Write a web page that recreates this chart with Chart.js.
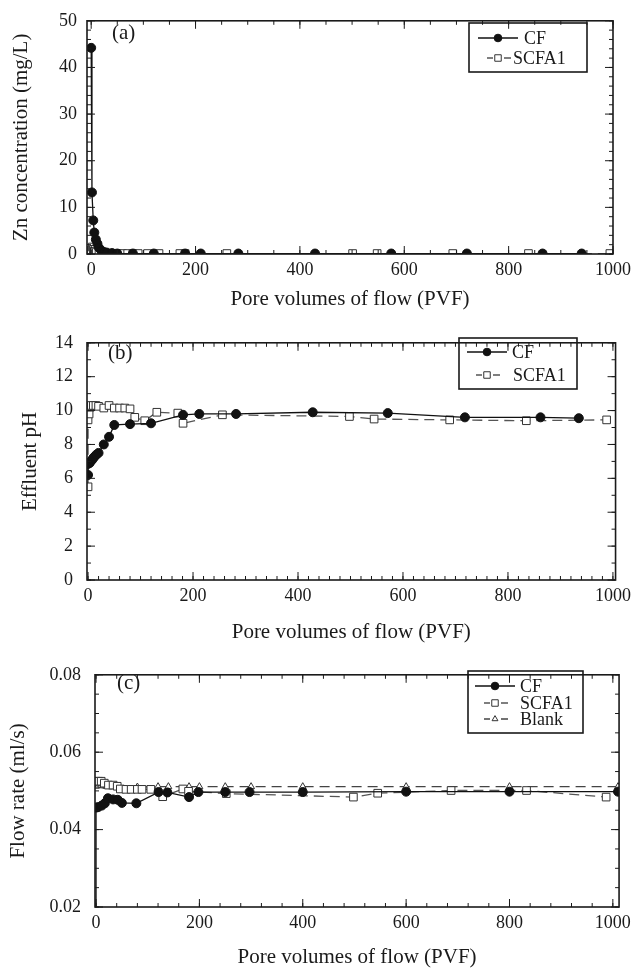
<!DOCTYPE html>
<html>
<head>
<meta charset="utf-8">
<script src="https://cdn.jsdelivr.net/npm/chart.js@4.4.0/dist/chart.umd.min.js"></script>
<style>
  html, body { margin: 0; padding: 0; background: #fff; }
  canvas { position: absolute; left: 0; }
</style>
</head>
<body>
<canvas id="chartA" width="636" height="318" style="top:0px"></canvas>
<canvas id="chartB" width="636" height="332" style="top:318px"></canvas>
<canvas id="chartC" width="636" height="323" style="top:650px"></canvas>
<script>
// ---- data ----
// (a) Zn concentration (mg/L)
const znCfPvf = [0, 1.5, 4, 6, 9, 12, 15, 20, 25, 30, 40, 50, 80, 120, 180, 210, 282, 429, 575, 720, 865, 940];
const znCf = [44.2, 13.2, 7.2, 4.6, 3.1, 2.2, 1.3, 0.7, 0.4, 0.3, 0.2, 0.1, 0.1, 0.1, 0.1, 0.1, 0.1, 0.1, 0.1, 0.1, 0.1, 0.1];
const znScfaPvf = [0, 2, 4, 6, 10, 15, 20, 30, 40, 50, 60, 70, 80, 90, 108, 130, 170, 180, 260, 501, 548, 693, 838, 994];
const znScfa = [0.8, 1.5, 1.0, 0.6, 0.4, 0.3, 0.2, 0.1, 0.1, 0.1, 0.1, 0.1, 0.1, 0.1, 0.1, 0.1, 0.1, 0.1, 0.1, 0.1, 0.1, 0.1, 0.1, 0.1];

// (b) Effluent pH
const phCfPvf = [0, 0, 3, 5, 8, 10, 13, 16, 20, 30, 40, 50, 80, 120, 181, 212, 282, 428, 571, 718, 862, 935];
const phCf = [6.2, 6.85, 6.9, 7.0, 7.1, 7.2, 7.3, 7.4, 7.5, 8.0, 8.45, 9.15, 9.2, 9.25, 9.75, 9.8, 9.8, 9.9, 9.85, 9.6, 9.6, 9.55];
const phScfaPvf = [0, 0, 2, 4, 6, 10, 15, 20, 30, 40, 50, 60, 70, 80, 89, 108, 131, 171, 181, 256, 498, 545, 689, 835, 988];
const phScfa = [5.5, 9.45, 9.8, 10.2, 10.3, 10.3, 10.3, 10.25, 10.15, 10.3, 10.15, 10.15, 10.15, 10.1, 9.6, 9.4, 9.9, 9.85, 9.25, 9.75, 9.65, 9.5, 9.45, 9.4, 9.45];

// (c) Flow rate (ml/s)
const flowCfPvf = [0, 0, 4, 11, 17, 23, 33, 42, 50, 78, 121, 138, 180, 198, 250, 297, 400, 600, 800, 1010];
const flowCf = [0.0, 0.0457, 0.0458, 0.0462, 0.0468, 0.0481, 0.0478, 0.0477, 0.0469, 0.0468, 0.0497, 0.0496, 0.0484, 0.0497, 0.0497, 0.0497, 0.0497, 0.0498, 0.0498, 0.0498];
const flowScfaPvf = [0, 5, 10, 16, 24, 33, 41, 47, 58, 68, 80, 89, 106, 129, 168, 179, 252, 498, 545, 687, 833, 987];
const flowScfa = [0.0525, 0.0525, 0.0525, 0.052, 0.0515, 0.0515, 0.0512, 0.0505, 0.0504, 0.0504, 0.0504, 0.0504, 0.0504, 0.0485, 0.0505, 0.0499, 0.0493, 0.0484, 0.0494, 0.0501, 0.0501, 0.0484];
const flowBlankPvf = [0, 5, 10, 15, 20, 30, 40, 80, 120, 140, 180, 200, 250, 300, 400, 600, 800, 1010];
const flowBlank = [0.0512, 0.0515, 0.0515, 0.0513, 0.0512, 0.0511, 0.051, 0.051, 0.0511, 0.0511, 0.0511, 0.0511, 0.0511, 0.0511, 0.0511, 0.0511, 0.0511, 0.0511];

// tick labels
const pvfTicks = [0, 200, 400, 600, 800, 1000];
const znTicks = [0, 10, 20, 30, 40, 50];
const phTicks = [0, 2, 4, 6, 8, 10, 12, 14];
const flowTicks = [0.02, 0.04, 0.06, 0.08];

const serif = "'Liberation Serif', 'DejaVu Serif', serif";
const ink = '#1a1a1a';

function pairs(xs, ys) {
  return xs.map((x, i) => ({ x: x, y: ys[i] }));
}

function cfSet(xs, ys) {
  return {
    label: 'CF', data: pairs(xs, ys),
    borderColor: '#111', backgroundColor: '#111', borderWidth: 1.3,
    pointStyle: 'circle', pointRadius: 4.5, pointBorderWidth: 1,
    pointBackgroundColor: '#111', pointBorderColor: '#111'
  };
}
function scfaSet(xs, ys) {
  return {
    label: 'SCFA1', data: pairs(xs, ys),
    borderColor: '#555', borderWidth: 1.3, borderDash: [10, 6],
    pointStyle: 'rect', pointRadius: 5.4, pointBorderWidth: 1,
    pointBackgroundColor: '#fff', pointBorderColor: '#333'
  };
}
function blankSet(xs, ys) {
  return {
    label: 'Blank', data: pairs(xs, ys),
    borderColor: '#444', borderWidth: 1.3, borderDash: [10, 6],
    pointStyle: 'triangle', pointRadius: 4, pointBorderWidth: 1,
    pointBackgroundColor: '#fff', pointBorderColor: '#333'
  };
}

// frame, inward ticks, panel letter and boxed legend
const framePlugin = {
  id: 'frame',
  afterDatasetsDraw(chart, args, opts) {
    const { ctx, chartArea: a, scales } = chart;
    const x = scales.x, y = scales.y;
    ctx.save();
    ctx.strokeStyle = ink;
    ctx.lineWidth = 1;
    const xt = (v, len) => {
      const p = x.getPixelForValue(v);
      if (p < a.left - 0.5 || p > a.right + 0.5) return;
      ctx.beginPath();
      ctx.moveTo(p, a.bottom); ctx.lineTo(p, a.bottom - len);
      ctx.moveTo(p, a.top); ctx.lineTo(p, a.top + len);
      ctx.stroke();
    };
    const yt = (v, len) => {
      const p = y.getPixelForValue(v);
      if (p < a.top - 0.5 || p > a.bottom + 0.5) return;
      ctx.beginPath();
      ctx.moveTo(a.left, p); ctx.lineTo(a.left + len, p);
      ctx.moveTo(a.right, p); ctx.lineTo(a.right - len, p);
      ctx.stroke();
    };
    for (let v = 0; v <= x.max; v += opts.xMinor) xt(v, 4);
    for (let v = y.min; v <= y.max + 1e-9; v += opts.yMinor) yt(v, 4);
    x.ticks.forEach(t => xt(t.value, 8));
    y.ticks.forEach(t => yt(t.value, 8));

    ctx.lineWidth = 1.6;
    ctx.strokeRect(a.left, a.top, a.right - a.left, a.bottom - a.top);

    ctx.fillStyle = ink;
    ctx.font = '21px ' + serif;
    ctx.textBaseline = 'middle';
    ctx.textAlign = 'left';
    ctx.fillText(opts.letter[0], opts.letter[1], opts.letter[2]);

    const lg = opts.legend;
    ctx.lineWidth = 1.6;
    ctx.strokeRect(lg.box[0], lg.box[1], lg.box[2], lg.box[3]);
    ctx.font = '18px ' + serif;
    chart.data.datasets.forEach((ds, i) => {
      const yy = lg.rows[i], cx = lg.markerX;
      ctx.strokeStyle = ds.borderColor;
      ctx.lineWidth = ds.borderWidth;
      ctx.beginPath();
      if (ds.borderDash) {
        ctx.moveTo(cx - 11, yy); ctx.lineTo(cx - 5, yy);
        ctx.moveTo(cx + 6, yy); ctx.lineTo(cx + 13, yy);
      } else {
        ctx.moveTo(cx - 20, yy); ctx.lineTo(cx + 20, yy);
      }
      ctx.stroke();
      ctx.fillStyle = ds.pointBackgroundColor;
      ctx.strokeStyle = ds.pointBorderColor;
      ctx.lineWidth = 1;
      Chart.helpers.drawPoint(ctx, { pointStyle: ds.pointStyle, radius: ds.pointRadius * 0.85, rotation: 0, borderWidth: 1 }, cx, yy);
      ctx.fillStyle = ink;
      ctx.fillText(ds.label, lg.textX[i], yy + 1);
    });
    ctx.restore();
  }
};

function makeChart(id, cfg) {
  return new Chart(document.getElementById(id), {
    type: 'line',
    data: { datasets: cfg.datasets },
    options: {
      responsive: false,
      animation: false,
      layout: { padding: cfg.padding },
      plugins: {
        legend: { display: false },
        tooltip: { enabled: false },
        frame: cfg.frame
      },
      elements: { line: { tension: 0 } },
      scales: {
        x: {
          type: 'linear', min: cfg.xMin, max: cfg.xMax,
          grid: { display: false, drawTicks: false },
          border: { display: false },
          afterBuildTicks: s => { s.ticks = pvfTicks.map(v => ({ value: v })); },
          afterFit: s => { s.height = cfg.xHeight; },
          ticks: { color: ink, font: { family: serif, size: 18 }, padding: 5, maxRotation: 0, callback: v => String(v) },
          title: {
            display: true, text: 'Pore volumes of flow (PVF)', color: ink,
            font: { family: serif, size: 21 }, padding: { top: 0, bottom: cfg.xTitlePad }
          }
        },
        y: {
          type: 'linear', min: cfg.yMin, max: cfg.yMax,
          grid: { display: false, drawTicks: false },
          border: { display: false },
          afterBuildTicks: s => { s.ticks = cfg.yTicks.map(v => ({ value: v })); },
          afterFit: s => { s.width = cfg.yWidth; },
          ticks: { color: ink, font: { family: serif, size: 18 }, padding: cfg.yTickPad, callback: cfg.yFmt },
          title: {
            display: true, text: cfg.yTitle, color: ink,
            font: { family: serif, size: 21 }, padding: { top: cfg.yTitlePad, bottom: 0 }
          }
        }
      }
    },
    plugins: [framePlugin]
  });
}

makeChart('chartA', {
  datasets: [cfSet(znCfPvf, znCf), scfaSet(znScfaPvf, znScfa)],
  padding: { top: 13, right: 15, bottom: 0, left: 0 },
  xMin: -8, xMax: 1000, xHeight: 64, xTitlePad: 6,
  yMin: 0, yMax: 50, yTicks: znTicks, yWidth: 87, yTickPad: 10, yTitlePad: 9,
  yTitle: 'Zn concentration (mg/L)', yFmt: v => String(v),
  frame: {
    xMinor: 50, yMinor: 2, letter: ['(a)', 112, 33],
    legend: { box: [469, 23, 118, 49], rows: [38, 58], markerX: 498, textX: [524, 513] }
  }
});

makeChart('chartB', {
  datasets: [cfSet(phCfPvf, phCf), scfaSet(phScfaPvf, phScfa)],
  padding: { top: 14, right: 14, bottom: 0, left: 0 },
  xMin: -2, xMax: 1005, xHeight: 70, xTitlePad: 5,
  yMin: 0, yMax: 14, yTicks: phTicks, yWidth: 87, yTickPad: 14, yTitlePad: 18,
  yTitle: 'Effluent pH', yFmt: v => String(v),
  frame: {
    xMinor: 20, yMinor: 1, letter: ['(b)', 108, 35],
    legend: { box: [459, 20, 118, 51], rows: [34, 57], markerX: 487, textX: [512, 513] }
  }
});

makeChart('chartC', {
  datasets: [cfSet(flowCfPvf, flowCf), scfaSet(flowScfaPvf, flowScfa), blankSet(flowBlankPvf, flowBlank)],
  padding: { top: 12, right: 12, bottom: 0, left: 0 },
  xMin: -2, xMax: 1012, xHeight: 66, xTitlePad: 3,
  yMin: 0.02, yMax: 0.08, yTicks: flowTicks, yWidth: 95, yTickPad: 14, yTitlePad: 6,
  yTitle: 'Flow rate (ml/s)', yFmt: v => v.toFixed(2),
  frame: {
    xMinor: 40, yMinor: 0.005, letter: ['(c)', 117, 33],
    legend: { box: [468, 21, 115, 62], rows: [36, 53, 69], markerX: 495, textX: [520, 520, 520] }
  }
});
</script>
</body>
</html>
